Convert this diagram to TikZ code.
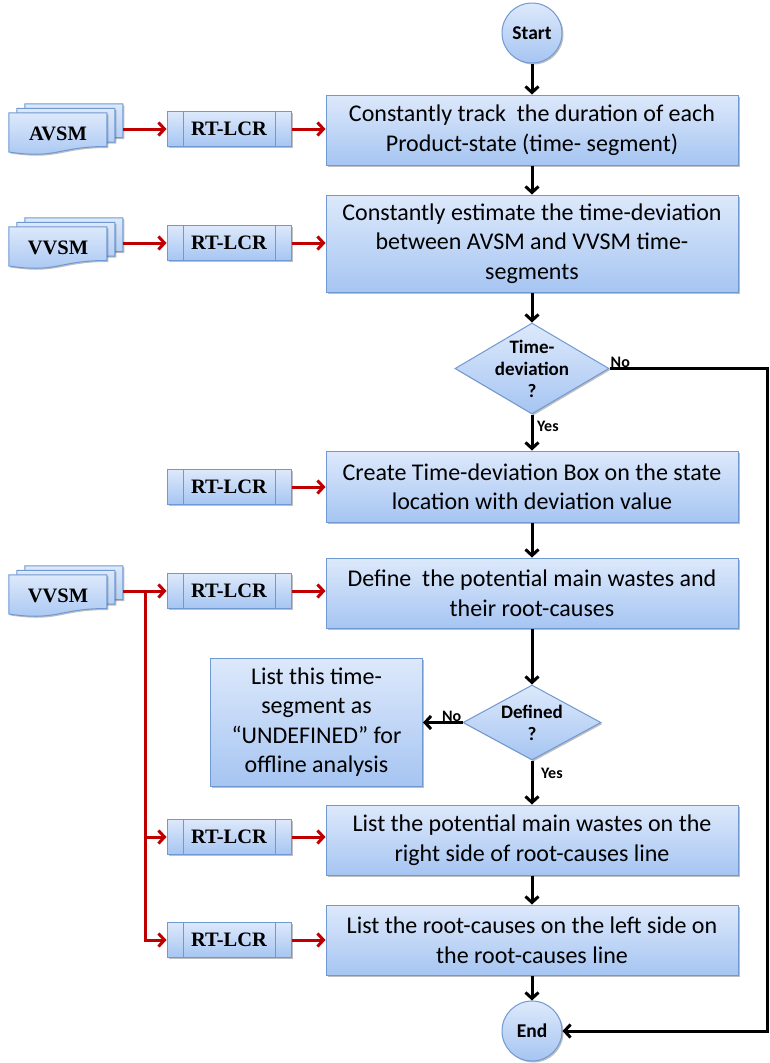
\documentclass[tikz,border=0pt]{standalone}
\usepackage{fontspec}
\setmainfont{Carlito}
\newfontfamily\labelserif{Liberation Serif}
\usetikzlibrary{arrows.meta,shapes.geometric,shadows,backgrounds}

\definecolor{boxtop}{HTML}{DDE9FB}
\definecolor{boxbot}{HTML}{A6C5F2}
\definecolor{boxline}{HTML}{7099D2}
\definecolor{linkred}{HTML}{C00000}

\tikzset{
  shade blue/.style={top color=boxtop, bottom color=boxbot, draw=boxline, line width=1pt},
  soft shadow/.style={drop shadow={shadow xshift=1.5pt, shadow yshift=-1.5pt, opacity=0.25, fill=black}},
  procbox/.style={shade blue, soft shadow, rectangle, minimum width=412pt, minimum height=70pt,
    inner sep=0pt, align=center, font=\fontsize{24}{29.5}\selectfont},
  terminal/.style={shade blue, soft shadow, circle, minimum size=60pt, inner sep=0pt,
    font=\bfseries\fontsize{19.5}{21}\selectfont},
  decision/.style={shade blue, soft shadow, diamond, inner sep=-6pt, align=center,
    font=\bfseries\fontsize{19}{22}\selectfont},
  rtlcr/.style={shade blue, soft shadow, rectangle, minimum width=124pt, minimum height=35pt,
    inner sep=0pt, font=\labelserif\bfseries\fontsize{20.5}{22}\selectfont,
    path picture={\draw[boxline, line width=1pt]
      ([xshift=16pt]path picture bounding box.north west) -- ([xshift=16pt]path picture bounding box.south west)
      ([xshift=-16pt]path picture bounding box.north east) -- ([xshift=-16pt]path picture bounding box.south east);}},
  docfront/.style={rectangle, minimum width=98pt, minimum height=42pt, inner sep=0pt,
    font=\labelserif\bfseries\fontsize{20.5}{22}\selectfont},
  docpage/.style={shade blue, soft shadow},
  flow/.style={draw=black, line width=3pt, -{Straight Barb[length=6pt,width=13pt]}},
  feed/.style={draw=linkred, line width=3pt, -{Straight Barb[length=6pt,width=13pt]}},
  tag/.style={font=\bfseries\fontsize{16}{18}\selectfont, inner sep=1pt},
}

% one page of a multi-document stack, wavy lower edge
\newcommand{\pagepath}[2]{%
  \path[docpage, shift={(#1,#2)}] (0,0) -- (98,0) -- (98,33.7)
    .. controls (49,33.7) and (49,46.5) .. (0,39.2) -- cycle;}
% three stacked pages behind a docfront node
\newcommand{\docstack}[1]{%
  \begin{scope}[shift={(#1.north west)}]
    \pagepath{16}{-9}\pagepath{8}{-4.5}\pagepath{0}{0}
  \end{scope}}

\begin{document}
\begin{tikzpicture}[x=1pt, y=-1pt]
\useasboundingbox (0,0) rectangle (770,1063);

% main column
\node[terminal] (start) at (532,33) {Start};
\node[procbox] (b1) at (532,130) {Constantly track\ \ the duration of each\\Product-state (time- segment)};
\node[procbox, minimum height=97pt] (b2) at (532,243.5) {Constantly estimate the time-deviation\\between AVSM and VVSM time-\\segments};
\node[decision, aspect=1.7, minimum width=154pt, minimum height=91pt] (d1) at (532,368.5) {Time-\\deviation\\?};
\node[procbox, minimum height=71pt] (b3) at (532,486.5) {Create Time-deviation Box on the state\\location with deviation value};
\node[procbox] (b4) at (532,593) {Define\ \ the potential main wastes and\\their root-causes};
\node[decision, aspect=1.84, minimum width=138pt, minimum height=75pt] (d2) at (532,722.5) {Defined\\?};
\node[procbox, minimum width=212pt, minimum height=128pt] (undef) at (316.5,722) {List this time-\\segment as\\“UNDEFINED” for\\offline analysis};
\node[procbox] (b5) at (532,840) {List the potential main wastes on the\\right side of root-causes line};
\node[procbox] (b6) at (532,940) {List the root-causes on the left side on\\the root-causes line};
\node[terminal] (stop) at (532,1031) {End};

% inputs on the left
\node[docfront] (avsm) at (58,134) {AVSM};
\node[rtlcr] (r1) at (229,129) {RT-LCR};
\node[docfront] (vvsm1) at (58,248) {VVSM};
\node[rtlcr] (r2) at (229,243) {RT-LCR};
\node[rtlcr] (r3) at (229,487) {RT-LCR};
\node[docfront] (vvsm2) at (58,596) {VVSM};
\node[rtlcr] (r4) at (229,591) {RT-LCR};
\node[rtlcr] (r5) at (229,837) {RT-LCR};
\node[rtlcr] (r6) at (229,940) {RT-LCR};

\begin{scope}[on background layer]
  \docstack{avsm}\docstack{vvsm1}\docstack{vvsm2}
\end{scope}

\coordinate (avsm-out) at ([xshift=16pt,yshift=5pt]avsm.east);
\coordinate (vvsm1-out) at ([xshift=16pt,yshift=5pt]vvsm1.east);
\coordinate (vvsm2-out) at ([xshift=16pt,yshift=5pt]vvsm2.east);
\coordinate (split) at ([xshift=22pt]vvsm2-out);
\coordinate (loop) at (767,369);

% red feeds
\draw[feed] (avsm-out) -- (avsm-out -| r1.west);
\draw[feed] (r1.east) -- (r1.east -| b1.west);
\draw[feed] (vvsm1-out) -- (vvsm1-out -| r2.west);
\draw[feed] (r2.east) -- (r2.east -| b2.west);
\draw[feed] (r3.east) -- (r3.east -| b3.west);
\draw[feed] (vvsm2-out) -- (vvsm2-out -| r4.west);
\draw[feed] (r4.east) -- (r4.east -| b4.west);
\draw[feed] (split) |- (r5.west);
\draw[feed] (split) |- (r6.west);
\draw[feed] (r5.east) -- (r5.east -| b5.west);
\draw[feed] (r6.east) -- (r6.east -| b6.west);

% main flow
\draw[flow] (start) -- (b1);
\draw[flow] (b1) -- (b2);
\draw[flow] (b2) -- (d1);
\draw[flow] (d1) -- (b3);
\draw[flow] (b3) -- (b4);
\draw[flow] (b4) -- (d2);
\draw[flow] (d2.west) -- (d2.west -| undef.east);
\draw[flow] (d2) -- (b5);
\draw[flow] (b5) -- (b6);
\draw[flow] (b6) -- (stop);
\draw[flow] (d1.east) -- (d1.east -| loop) |- (stop.east);

% branch labels
\node[tag, anchor=south west] (no1) at (d1.east) {No};
\node[tag, anchor=north west] (yes1) at ([xshift=4pt,yshift=-5pt]d1.south) {Yes};
\node[tag, anchor=south east] (no2) at (d2.west) {No};
\node[tag, anchor=north west] (yes2) at ([xshift=8pt,yshift=-6pt]d2.south) {Yes};
\end{tikzpicture}
\end{document}
